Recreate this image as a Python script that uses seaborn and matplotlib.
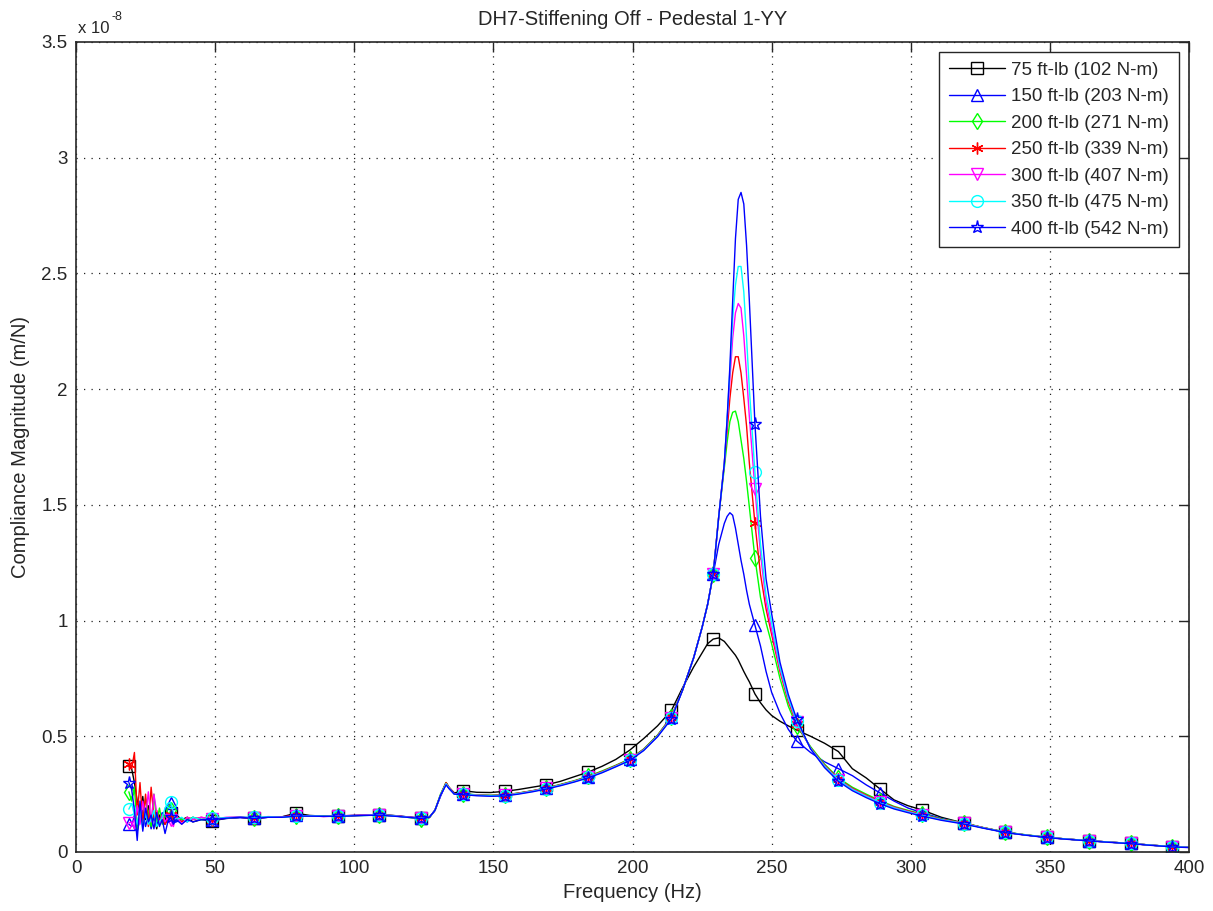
import numpy as np
import pandas as pd
import matplotlib
matplotlib.use("Agg")
import matplotlib.pyplot as plt
import seaborn as sns

# ---------------- data (compliance in units of 1e-8 m/N) ----------------
FREQ = [19, 20, 21, 22, 23, 24, 25, 26, 27, 28, 29, 30, 31, 32, 33, 34, 35, 36, 38, 40, 42, 45,
        49, 54, 59, 64, 69, 74, 79, 84, 89, 94, 99, 104, 109, 114, 119, 124, 127, 129, 131, 133, 134, 136,
        139, 144, 149, 154, 159, 164, 169, 174, 179, 184, 189, 194, 199, 204, 209, 214, 218, 222, 225, 227,
        229, 231, 233, 234, 235, 236, 237, 238, 239, 240, 241, 242, 244, 246, 248, 250, 253, 256, 259,
        264, 269, 274, 279, 284, 289, 294, 299, 304, 311, 319, 326, 334, 341, 349, 356, 364, 371, 379, 386, 394, 400]

MARKER_FREQ = [19, 34, 49, 64, 79, 94, 109, 124, 139, 154, 169, 184, 199, 214, 229, 244,
               259, 274, 289, 304, 319, 334, 349, 364, 379, 394]

LABELS = ["75 ft-lb (102 N-m)", "150 ft-lb (203 N-m)", "200 ft-lb (271 N-m)", "250 ft-lb (339 N-m)",
          "300 ft-lb (407 N-m)", "350 ft-lb (475 N-m)", "400 ft-lb (542 N-m)"]

T75 = [0.37, 0.36, 0.30, 0.22, 0.18, 0.24, 0.14, 0.20, 0.12, 0.17, 0.10, 0.16, 0.13, 0.12, 0.15, 0.17, 0.13, 0.16, 0.14, 0.15, 0.13, 0.14,
       0.135, 0.145, 0.15, 0.145, 0.15, 0.152, 0.168, 0.158, 0.155, 0.155, 0.158, 0.16, 0.162, 0.158, 0.152, 0.146, 0.15, 0.18, 0.245, 0.30, 0.28, 0.255,
       0.265, 0.258, 0.257, 0.262, 0.27, 0.28, 0.29, 0.305, 0.325, 0.345, 0.37, 0.40, 0.44, 0.49, 0.545, 0.612, 0.71, 0.80, 0.86, 0.90,
       0.92, 0.925, 0.91, 0.895, 0.88, 0.865, 0.85, 0.83, 0.805, 0.78, 0.757, 0.735, 0.683, 0.645, 0.614, 0.59, 0.565, 0.545, 0.527,
       0.50, 0.47, 0.434, 0.36, 0.32, 0.272, 0.225, 0.20, 0.182, 0.15, 0.125, 0.105, 0.086, 0.074, 0.063, 0.056, 0.049, 0.043, 0.037, 0.03, 0.023, 0.02]

T150 = [0.12, 0.11, 0.16, 0.09, 0.14, 0.18, 0.11, 0.16, 0.10, 0.15, 0.12, 0.14, 0.17, 0.15, 0.19, 0.21, 0.16, 0.13, 0.14, 0.13, 0.15, 0.14,
        0.14, 0.145, 0.148, 0.145, 0.15, 0.152, 0.158, 0.156, 0.155, 0.155, 0.157, 0.16, 0.16, 0.157, 0.152, 0.146, 0.15, 0.18, 0.24, 0.295, 0.275, 0.25,
        0.252, 0.246, 0.244, 0.246, 0.254, 0.264, 0.276, 0.29, 0.306, 0.325, 0.347, 0.372, 0.40, 0.443, 0.503, 0.585, 0.70, 0.84, 0.97, 1.07,
        1.20, 1.33, 1.42, 1.45, 1.466, 1.455, 1.40, 1.33, 1.26, 1.20, 1.13, 1.07, 0.98, 0.89, 0.78, 0.69, 0.60, 0.53, 0.48,
        0.43, 0.39, 0.36, 0.33, 0.29, 0.255, 0.22, 0.19, 0.17, 0.145, 0.124, 0.105, 0.085, 0.074, 0.063, 0.056, 0.049, 0.043, 0.037, 0.03, 0.023, 0.02]

T200 = [0.26, 0.22, 0.28, 0.10, 0.20, 0.14, 0.23, 0.17, 0.11, 0.25, 0.13, 0.19, 0.12, 0.16, 0.14, 0.18, 0.13, 0.15, 0.14, 0.14, 0.15, 0.14,
        0.145, 0.148, 0.15, 0.148, 0.152, 0.15, 0.157, 0.156, 0.154, 0.156, 0.157, 0.158, 0.16, 0.157, 0.15, 0.143, 0.148, 0.18, 0.25, 0.30, 0.28, 0.25,
        0.252, 0.247, 0.245, 0.247, 0.255, 0.265, 0.277, 0.292, 0.308, 0.327, 0.35, 0.375, 0.402, 0.445, 0.505, 0.585, 0.70, 0.84, 0.97, 1.07,
        1.20, 1.45, 1.66, 1.77, 1.86, 1.90, 1.905, 1.86, 1.78, 1.70, 1.60, 1.49, 1.27, 1.10, 0.99, 0.90, 0.75, 0.63, 0.545,
        0.455, 0.38, 0.32, 0.28, 0.25, 0.222, 0.197, 0.18, 0.165, 0.143, 0.126, 0.106, 0.086, 0.075, 0.064, 0.056, 0.049, 0.043, 0.037, 0.03, 0.023, 0.02]

T250 = [0.38, 0.36, 0.43, 0.16, 0.30, 0.12, 0.25, 0.11, 0.28, 0.15, 0.18, 0.13, 0.16, 0.12, 0.14, 0.16, 0.13, 0.15, 0.13, 0.15, 0.14, 0.15,
        0.14, 0.147, 0.15, 0.146, 0.151, 0.152, 0.158, 0.155, 0.154, 0.155, 0.156, 0.159, 0.16, 0.156, 0.151, 0.145, 0.149, 0.18, 0.245, 0.30, 0.28, 0.252,
        0.251, 0.246, 0.244, 0.246, 0.254, 0.264, 0.276, 0.29, 0.306, 0.325, 0.347, 0.373, 0.40, 0.443, 0.503, 0.583, 0.70, 0.84, 0.97, 1.07,
        1.20, 1.45, 1.68, 1.82, 1.96, 2.07, 2.14, 2.14, 2.07, 1.96, 1.84, 1.68, 1.42, 1.20, 1.05, 0.94, 0.78, 0.65, 0.555,
        0.45, 0.375, 0.315, 0.275, 0.245, 0.218, 0.194, 0.177, 0.162, 0.141, 0.125, 0.105, 0.085, 0.074, 0.063, 0.056, 0.049, 0.043, 0.037, 0.03, 0.023, 0.02]

T300 = [0.125, 0.13, 0.10, 0.20, 0.12, 0.22, 0.15, 0.26, 0.13, 0.25, 0.17, 0.12, 0.16, 0.13, 0.15, 0.14, 0.11, 0.16, 0.12, 0.15, 0.14, 0.15,
        0.142, 0.15, 0.152, 0.147, 0.153, 0.151, 0.156, 0.157, 0.153, 0.156, 0.158, 0.16, 0.161, 0.157, 0.151, 0.147, 0.15, 0.18, 0.245, 0.295, 0.278, 0.25,
        0.25, 0.245, 0.243, 0.245, 0.253, 0.263, 0.275, 0.289, 0.305, 0.323, 0.345, 0.371, 0.398, 0.441, 0.50, 0.58, 0.70, 0.84, 0.97, 1.07,
        1.20, 1.45, 1.68, 1.86, 2.04, 2.22, 2.33, 2.37, 2.35, 2.23, 2.06, 1.88, 1.57, 1.29, 1.08, 0.96, 0.79, 0.66, 0.56,
        0.448, 0.372, 0.312, 0.272, 0.242, 0.215, 0.192, 0.175, 0.16, 0.14, 0.124, 0.105, 0.085, 0.074, 0.063, 0.056, 0.049, 0.043, 0.037, 0.03, 0.023, 0.02]

T350 = [0.185, 0.21, 0.16, 0.12, 0.19, 0.10, 0.17, 0.12, 0.14, 0.18, 0.11, 0.13, 0.15, 0.19, 0.21, 0.215, 0.17, 0.14, 0.15, 0.13, 0.15, 0.14,
        0.145, 0.148, 0.15, 0.15, 0.152, 0.15, 0.155, 0.156, 0.155, 0.154, 0.157, 0.158, 0.16, 0.156, 0.15, 0.146, 0.15, 0.18, 0.245, 0.295, 0.277, 0.25,
        0.25, 0.245, 0.243, 0.244, 0.252, 0.262, 0.274, 0.288, 0.304, 0.322, 0.344, 0.37, 0.397, 0.44, 0.50, 0.578, 0.70, 0.84, 0.97, 1.07,
        1.20, 1.45, 1.68, 1.87, 2.08, 2.30, 2.45, 2.53, 2.53, 2.42, 2.22, 2.00, 1.64, 1.33, 1.11, 0.99, 0.80, 0.665, 0.565,
        0.447, 0.37, 0.31, 0.27, 0.24, 0.213, 0.19, 0.173, 0.158, 0.139, 0.123, 0.104, 0.085, 0.074, 0.063, 0.056, 0.049, 0.043, 0.037, 0.03, 0.023, 0.02]

T400 = [0.30, 0.27, 0.18, 0.05, 0.22, 0.09, 0.19, 0.13, 0.16, 0.10, 0.17, 0.11, 0.14, 0.08, 0.13, 0.15, 0.12, 0.14, 0.12, 0.14, 0.13, 0.14,
        0.14, 0.146, 0.15, 0.145, 0.15, 0.15, 0.155, 0.155, 0.154, 0.154, 0.156, 0.158, 0.159, 0.155, 0.15, 0.145, 0.15, 0.18, 0.245, 0.29, 0.275, 0.25,
        0.248, 0.243, 0.241, 0.242, 0.25, 0.26, 0.272, 0.286, 0.302, 0.32, 0.342, 0.368, 0.395, 0.438, 0.498, 0.575, 0.70, 0.84, 0.97, 1.07,
        1.20, 1.45, 1.68, 1.87, 2.10, 2.38, 2.65, 2.82, 2.85, 2.80, 2.62, 2.38, 1.85, 1.45, 1.18, 1.03, 0.82, 0.68, 0.575,
        0.445, 0.365, 0.305, 0.265, 0.235, 0.208, 0.186, 0.17, 0.155, 0.137, 0.121, 0.103, 0.084, 0.073, 0.062, 0.055, 0.048, 0.042, 0.036, 0.029, 0.022, 0.019]

SERIES = [T75, T150, T200, T250, T300, T350, T400]
COLORS = ["#000000", "#0000ff", "#00ff00", "#ff0000", "#ff00ff", "#00ffff", "#0000ff"]
MARKERS = ["s", "^", "d", (6, 2, 0), "v", "o", "*"]
MSIZES = [8.5, 8.5, 8.5, 8.5, 8.5, 8.5, 9.5]

# ---------------- plot ----------------
sns.set_style("white")
plt.rcParams["font.family"] = ["Liberation Sans", "DejaVu Sans"]
FS = 13.5
TXT = "#262626"

fig = plt.figure(figsize=(12.13, 9.11), dpi=100)
ax = fig.add_axes([76 / 1213, 1 - 852 / 911, (1189 - 76) / 1213, (852 - 42) / 911])

freq = np.array(FREQ, dtype=float)
mark_idx = [int(i) for i in np.where(np.isin(freq, MARKER_FREQ))[0]]

for vals, lab, col, mk, ms in zip(SERIES, LABELS, COLORS, MARKERS, MSIZES):
    df = pd.DataFrame({"Frequency": freq, "Compliance": np.array(vals, dtype=float)})
    sns.lineplot(data=df, x="Frequency", y="Compliance", ax=ax, color=col, linewidth=1.0,
                 marker=mk, markersize=ms, markevery=mark_idx, markerfacecolor="none",
                 markeredgecolor=col, markeredgewidth=1.0, label=lab, sort=False,
                 estimator=None, legend=False)

ax.set_xlim(0, 400)
ax.set_ylim(0, 3.5)
ax.set_xticks(np.arange(0, 401, 50))
ax.set_yticks(np.arange(0, 3.51, 0.5))
ax.set_yticklabels(["0", "0.5", "1", "1.5", "2", "2.5", "3", "3.5"])
ax.tick_params(direction="in", length=7, width=1.0, top=True, right=True,
               labelsize=FS, colors=TXT, pad=6)
ax.grid(True, color="#222222", linestyle=(0, (1, 5)), linewidth=0.9)
for sp in ax.spines.values():
    sp.set_visible(True)
    sp.set_color(TXT)
    sp.set_linewidth(1.2)

ax.set_xlabel("Frequency (Hz)", fontsize=FS + 1, color=TXT, labelpad=4)
ax.set_ylabel("Compliance Magnitude (m/N)", fontsize=FS + 1, color=TXT, labelpad=8)
ax.set_title("DH7-Stiffening Off - Pedestal 1-YY", fontsize=FS + 1, color=TXT, pad=12)

# exponent label (x 10^-8) above the y axis
fig.text(78 / 1213, 1 - 33 / 911, "x 10", ha="left", va="baseline", fontsize=FS - 1.5, color=TXT)
fig.text(111 / 1213, 1 - 20 / 911, "-8", ha="left", va="baseline", fontsize=FS - 4.5, color=TXT)

handles, labels = ax.get_legend_handles_labels()
leg = ax.legend(handles, labels, loc="upper right", fontsize=FS, frameon=True, fancybox=False,
                framealpha=1, edgecolor=TXT, handlelength=3.0, handletextpad=0.35, numpoints=1,
                borderpad=0.5, labelspacing=0.5, borderaxespad=0.55)
leg.get_frame().set_linewidth(1.0)
for h in leg.get_lines():
    h.set_markevery([1])

fig.savefig("out.png", dpi=100, facecolor="white")
